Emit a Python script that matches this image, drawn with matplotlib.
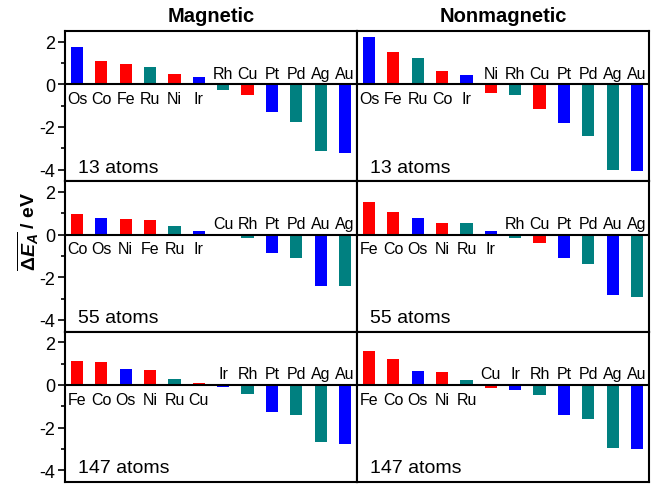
#!/usr/bin/env python3
"""
Adsorption energy shift per element, magnetic vs nonmagnetic clusters
(13, 55, 147 atoms). Bars coloured by row of the periodic table.
"""

import matplotlib
matplotlib.use("Agg")
import matplotlib.pyplot as plt
from matplotlib.ticker import MultipleLocator

# --- DATA ---
SIZES = ["13 atoms", "55 atoms", "147 atoms"]

mag13_names = ["Os", "Co", "Fe", "Ru", "Ni", "Ir", "Rh", "Cu", "Pt", "Pd", "Ag", "Au"]
mag13_vals  = [1.77, 1.08, 0.97, 0.81, 0.47, 0.33, -0.28, -0.50, -1.30, -1.75, -3.15, -3.22]

non13_names = ["Os", "Fe", "Ru", "Co", "Ir", "Ni", "Rh", "Cu", "Pt", "Pd", "Ag", "Au"]
non13_vals  = [2.21, 1.51, 1.24, 0.63, 0.44, -0.41, -0.48, -1.18, -1.82, -2.43, -4.04, -4.07]

mag55_names = ["Co", "Os", "Ni", "Fe", "Ru", "Ir", "Cu", "Rh", "Pt", "Pd", "Au", "Ag"]
mag55_vals  = [0.98, 0.79, 0.74, 0.69, 0.39, 0.19, -0.05, -0.17, -0.88, -1.10, -2.39, -2.42]

non55_names = ["Fe", "Co", "Os", "Ni", "Ru", "Ir", "Rh", "Cu", "Pt", "Pd", "Au", "Ag"]
non55_vals  = [1.54, 1.08, 0.80, 0.55, 0.53, 0.17, -0.14, -0.39, -1.10, -1.37, -2.82, -2.91]

mag147_names = ["Fe", "Co", "Os", "Ni", "Ru", "Cu", "Ir", "Rh", "Pt", "Pd", "Ag", "Au"]
mag147_vals  = [1.12, 1.10, 0.77, 0.71, 0.28, 0.09, -0.11, -0.44, -1.25, -1.43, -2.66, -2.76]

non147_names = ["Fe", "Co", "Os", "Ni", "Ru", "Cu", "Ir", "Rh", "Pt", "Pd", "Ag", "Au"]
non147_vals  = [1.59, 1.20, 0.66, 0.63, 0.24, -0.14, -0.22, -0.47, -1.43, -1.60, -2.96, -3.02]

# --- STYLE ---
RED, TEAL, BLUE = "#ff0000", "#008080", "#0000ff"
ELEM_COLOR = {"Fe": RED, "Co": RED, "Ni": RED, "Cu": RED,
              "Ru": TEAL, "Rh": TEAL, "Pd": TEAL, "Ag": TEAL,
              "Os": BLUE, "Ir": BLUE, "Pt": BLUE, "Au": BLUE}

plt.rcParams["font.family"] = ["Liberation Sans", "DejaVu Sans"]
plt.rcParams["axes.unicode_minus"] = False
plt.rcParams["mathtext.fontset"] = "custom"
plt.rcParams["mathtext.rm"] = "Liberation Sans:bold"
plt.rcParams["mathtext.it"] = "Liberation Sans:italic:bold"
plt.rcParams["mathtext.bf"] = "Liberation Sans:bold"

PANELS = [
    [(mag13_names, mag13_vals), (non13_names, non13_vals)],
    [(mag55_names, mag55_vals), (non55_names, non55_vals)],
    [(mag147_names, mag147_vals), (non147_names, non147_vals)],
]

# -------------------- PLOT --------------------
fig, axes = plt.subplots(3, 2, figsize=(6.57, 4.85), dpi=100)
fig.subplots_adjust(left=65/657, right=649/657, top=1-32/485, bottom=1-483/485,
                    wspace=0, hspace=0)

for r, row in enumerate(PANELS):
    for c, (names, vals) in enumerate(row):
        ax = axes[r, c]
        xs = list(range(len(names)))
        ax.bar(xs, vals, width=0.5, color=[ELEM_COLOR[n] for n in names], zorder=2)
        ax.axhline(0, color="black", lw=1.5, zorder=3)

        for x, n, v in zip(xs, names, vals):
            dy = -13.5 if v >= 0 else 4.8
            ax.annotate(n, (x, 0), xytext=(0, dy), textcoords="offset points",
                        ha="center", va="baseline", fontsize=11.5)

        ax.set_xlim(-0.49, 11.49)
        ax.set_ylim(-4.55, 2.5)
        ax.set_xticks([])
        for sp in ax.spines.values():
            sp.set_linewidth(1.5)

        ax.text(0.045, 0.065, SIZES[r], transform=ax.transAxes,
                ha="left", va="baseline", fontsize=14)

        if c == 0:
            ax.yaxis.set_major_locator(MultipleLocator(2))
            ax.yaxis.set_minor_locator(MultipleLocator(1))
            ax.tick_params(axis="y", which="major", direction="out", length=5,
                           width=1.2, labelsize=13, pad=2)
            ax.tick_params(axis="y", which="minor", direction="out", length=3, width=1.2)
        else:
            ax.set_yticks([])
            ax.yaxis.set_minor_locator(plt.NullLocator())

axes[0, 0].set_title("Magnetic", fontsize=14.5, fontweight="bold", pad=7)
axes[0, 1].set_title("Nonmagnetic", fontsize=14.5, fontweight="bold", pad=7)

fig.text(28/657, 1-231/485, r"$\overline{\Delta E_{A}}$ / eV", rotation=90,
         ha="center", va="center", fontsize=14, fontweight="bold")

plt.savefig("out.png", dpi=100)
